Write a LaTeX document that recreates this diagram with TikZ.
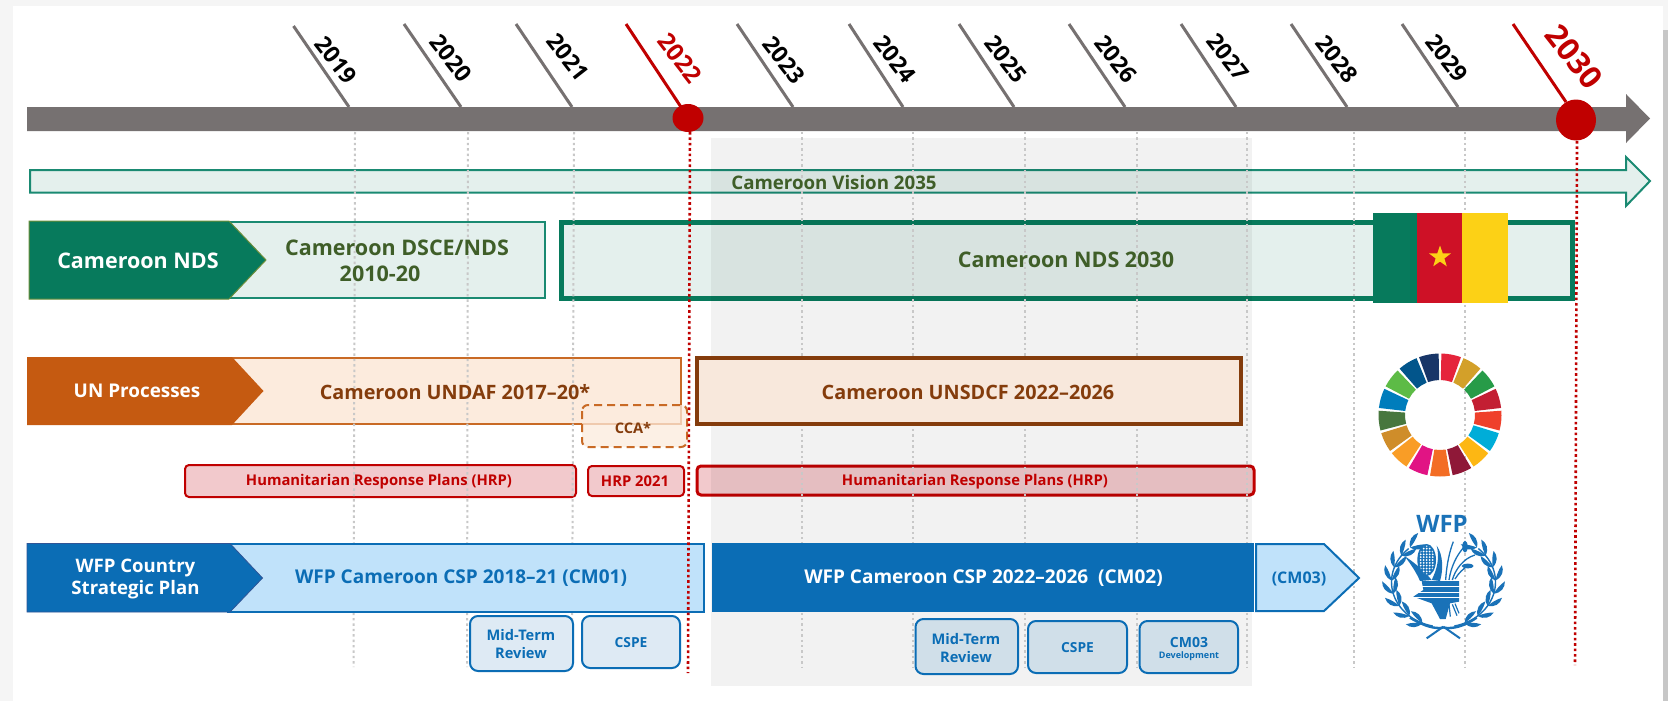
\documentclass[tikz,border=0pt]{standalone}
\usepackage{fontspec}
\setmainfont{Open Sans}
\usetikzlibrary{shapes.geometric,shapes.arrows}
\definecolor{axisgrey}{HTML}{767171}
\definecolor{dotgrey}{HTML}{C8C8C8}
\definecolor{redm}{HTML}{C00000}
\definecolor{greend}{HTML}{077A5C}
\definecolor{greenl}{HTML}{E4F0ED}
\definecolor{greenb}{HTML}{1A8A72}
\definecolor{greent}{HTML}{3F5E28}
\definecolor{oliveb}{HTML}{6B8E3A}
\definecolor{orgd}{HTML}{C55A11}
\definecolor{orgl}{HTML}{FCEBDD}
\definecolor{orgb}{HTML}{C96A25}
\definecolor{brownd}{HTML}{843C0C}
\definecolor{brownl}{HTML}{F8E8DC}
\definecolor{hrpl}{HTML}{F2C9CC}
\definecolor{blued}{HTML}{0B6DB5}
\definecolor{bluedb}{HTML}{2F5597}
\definecolor{bluel}{HTML}{C0E2FA}
\definecolor{revl}{HTML}{DEEAF4}
\definecolor{revd}{HTML}{D0DFE9}
\definecolor{logob}{HTML}{1A72B8}
\definecolor{flagr}{HTML}{CE1126}
\definecolor{flagy}{HTML}{FCD116}
\newcommand{\fs}[1]{\bfseries\fontsize{#1}{1.2em}\selectfont}
\tikzset{
 x=1pt,y=-1pt,
 yearlab/.style={font=\bfseries\fontsize{23}{23}\selectfont,rotate=-52,inner sep=0pt,text=black},
 tickln/.style={draw=axisgrey,line width=3pt},
 tickred/.style={draw=redm,line width=3pt},
 dotln/.style={draw=dotgrey,line width=2pt,dash pattern=on 2.4pt off 3pt},
 reddot/.style={draw=redm,line width=2.6pt,dash pattern=on 2.6pt off 2.8pt},
 lab/.style={inner sep=0pt,align=center,yshift=-1pt,font=\bfseries\fontsize{19.8}{26}\selectfont},
 revbox/.style={draw=blued,line width=2pt,rounded corners=8pt},
 hrpbox/.style={draw=redm,line width=2pt,rounded corners=4pt,fill=hrpl},
}
\begin{document}
\begin{tikzpicture}
\useasboundingbox (0,0) rectangle (1668,701);
% page
\fill[black!4] (0,0) rectangle (1668,701);
\fill[black!22] (1663,30) rectangle (1668,701);
\fill[white] (13,6) rectangle (1663,701);
% axis
\fill[axisgrey] (27,107) -- (1626,107) -- (1626,94) -- (1650,118.5) -- (1626,143) -- (1626,131) -- (27,131) -- cycle;
% ticks
\foreach \a/\b/\c/\d/\y/\lx/\ly in {293.5/26/349/107/2019/336/60,404/24/461/107/2020/451/58,516/24/572/107/2021/568/57,737/24/793/107/2023/784/60,849/24/903/107/2024/895/59,959/24/1014/107/2025/1006/59,1069/24/1125/107/2026/1116/59,1181/24/1236/107/2027/1228/57,1291/24/1347/107/2028/1337/59,1402/24/1458/107/2029/1447/58}{
 \coordinate (t\y a) at (\a,\b);
 \coordinate (t\y b) at (\c,\d);
 \draw[tickln] (t\y a) -- (t\y b);
 \node[yearlab] (y\y) at (\lx,\ly) {\y};
}
\coordinate (t2022a) at (626,24); \coordinate (t2022b) at (681,107);
\coordinate (t2030a) at (1513,24); \coordinate (t2030b) at (1566,102);
\draw[tickred] (t2022a) -- (t2022b);
\draw[tickred] (t2030a) -- (t2030b);
\node[yearlab,text=redm,font=\bfseries\fontsize{24}{24}\selectfont] (y2022) at (680,58) {2022};
\node[yearlab,text=redm,font=\bfseries\fontsize{31}{31}\selectfont] (y2030) at (1574,57) {2030};
% vision + nds (under panel)
\draw[draw=greenb,line width=2pt,fill=greenl] (30,170) -- (1626,170) -- (1626,157) -- (1650,181) -- (1626,206) -- (1626,192.5) -- (30,192.5) -- cycle;
\draw[draw=greenb,line width=2pt,fill=greenl] (226,222) rectangle (545,298);
\draw[draw=greend,line width=5pt,fill=greenl] (561,222) rectangle (1572,298);
% UN bars
\draw[draw=orgb,line width=2pt,fill=orgl] (229,358) rectangle (681,424);
\node[hrpbox,minimum width=391pt,minimum height=32pt,inner sep=0pt,anchor=north west] (hrpa) at (184,464) {};
\node[hrpbox,minimum width=96pt,minimum height=30pt,inner sep=0pt,anchor=north west] (hrpb) at (587,465) {};
\draw[draw=redm,line width=3pt,rounded corners=4pt,fill=hrpl] (697,466) rectangle (1254,495);
% panel
\fill[black,opacity=.05] (711,138) rectangle (1252,686);
% dotted grid
\foreach \a/\b in {355/353.5,468/467,574/572,802/802,913/913,1025/1025,1137/1137,1247/1247,1354/1354,1465/1465}{
 \draw[dotln] (\a,132) -- (\b,667);
}
% circles
\fill[redm] (688,118) ellipse [x radius=15.5,y radius=14];
\fill[redm] (1576,120) ellipse [x radius=20,y radius=20.5];
\coordinate (r22a) at (690,132); \coordinate (r22b) at (688,673);
\coordinate (r30a) at (1577,141); \coordinate (r30b) at (1575,665);
% vision text
\node[lab,text=greent,font=\fs{18.7}] (vision) at (834,181) {Cameroon Vision 2035};
% NDS row
\draw[draw=oliveb,line width=1pt,fill=greend] (29,221) -- (229,221) -- (266,260) -- (229,299) -- (29,299) -- cycle;
\node[lab,text=white,font=\fs{21.5}] (ndsl) at (138,260) {Cameroon NDS};
\node[lab,text=greent,font=\bfseries\fontsize{21.5}{26}\selectfont] (dsce) at (397,260) {Cameroon DSCE/NDS\\2010-20\hspace*{34pt}};
\node[lab,text=greent,font=\fs{21.5}] (nds30) at (1066,259) {Cameroon NDS 2030};
% flag
\fill[greend] (1373,213) rectangle (1417,303);
\fill[flagr] (1417,213) rectangle (1462,303);
\fill[flagy] (1462,213) rectangle (1508,303);
\node[star,star points=5,star point ratio=2.5,fill=flagy,minimum size=23pt,inner sep=0pt] (star) at (1440,257) {};
% UN row
\fill[orgd] (27,357) -- (232,357) -- (263.5,391) -- (232,425) -- (27,425) -- cycle;
\node[lab,text=white,font=\fs{18.9}] (unl) at (137,390) {UN Processes};
\node[lab,text=brownd] (undaf) at (455,391) {Cameroon UNDAF 2017–20*};
\draw[draw=brownd,line width=4pt,fill=brownl] (697,358) rectangle (1241,424);
\node[lab,text=brownd] (unsdcf) at (968,391) {Cameroon UNSDCF 2022–2026};
\fill[orgl,opacity=.75,rounded corners=6pt] (582,405) rectangle (687,447);
\draw[draw=orgb,line width=2pt,dash pattern=on 8pt off 5pt,rounded corners=6pt] (582,405) rectangle (687,447);
\node[lab,text=brownd,font=\fs{14.6}] (ccat) at (633,427) {CCA*};
\node[lab,text=redm,font=\fs{14.8}] (hrpat) at (379,481) {Humanitarian Response Plans (HRP)};
\node[lab,text=redm,font=\fs{14.8}] (hrpbt) at (635,480) {HRP 2021};
\node[lab,text=redm,font=\fs{14.8}] (hrpc) at (975,481) {Humanitarian Response Plans (HRP)};
% WFP row
\draw[draw=blued,line width=2pt,fill=bluel] (228,544) rectangle (704,611.5);
\draw[draw=bluedb,line width=.8pt,fill=blued] (27,543.5) -- (230,543.5) -- (262.5,578) -- (230,612) -- (27,612) -- cycle;
\node[lab,text=white,font=\bfseries\fontsize{18.6}{22.5}\selectfont] (wfpl) at (135.5,578) {WFP Country\\Strategic Plan};
\node[lab,text=blued,font=\fs{19}] (csp1) at (461,577) {WFP Cameroon CSP 2018–21 (CM01)};
\fill[blued] (712,543) rectangle (1254,612);
\node[lab,text=white,font=\fs{19}] (csp2) at (983.5,577) {WFP Cameroon CSP 2022–2026 \ (CM02)};
\draw[draw=blued,line width=2pt,fill=bluel] (1256,544) -- (1324,544) -- (1359,578) -- (1324,611) -- (1256,611) -- cycle;
\node[lab,text=blued,font=\fs{16}] (cm03) at (1299,578) {(CM03)};
% red dotted over rows
\draw[reddot] (r22a) -- (r22b);
\draw[reddot] (r30a) -- (r30b);
% review boxes
\draw[revbox,fill=revl] (470,616) rectangle (573,671);
\node[lab,text=blued,font=\bfseries\fontsize{14.6}{18}\selectfont] (mtr1) at (521,643.5) {Mid-Term\\Review};
\draw[revbox,fill=revl] (582,616) rectangle (680,668);
\node[lab,text=blued,font=\fs{13.8}] (cspe1) at (631,642) {CSPE};
\draw[revbox,fill=revd] (915.5,619) rectangle (1018,674);
\node[lab,text=blued,font=\bfseries\fontsize{14.6}{18}\selectfont] (mtr2) at (966,647) {Mid-Term\\Review};
\draw[revbox,fill=revd] (1028,621) rectangle (1127,673);
\node[lab,text=blued,font=\fs{13.8}] (cspe2) at (1077.5,647) {CSPE};
\draw[revbox,fill=revd] (1139.5,621) rectangle (1238,673);
\node[lab,text=blued,font=\fs{14}] (cm03a) at (1189,641) {CM03};
\node[lab,text=blued,font=\fs{9}] (cm03b) at (1189,655) {Development};
% SDG wheel
\foreach \k/\r/\g/\b in {1/229/36/59,2/211/160/41,3/39/155/72,4/195/31/51,5/239/64/43,6/0/173/216,7/253/183/19,8/143/24/56,9/243/109/37,10/225/20/132,11/249/157/38,12/207/141/42,13/72/119/62,14/0/125/188,15/93/187/70,16/2/85/139,17/24/54/104}{
 \pgfmathsetmacro{\ca}{90-(180+(\k-9)*21.176)+9.3}
 \pgfmathsetmacro{\cb}{90-(180+(\k-9)*21.176)-9.3}
 \definecolor{sdgc}{RGB}{\r,\g,\b}
 \fill[sdgc] ({1440+61.5*cos(\ca)},{415-61.5*sin(\ca)}) arc[start angle=-\ca,end angle=-\cb,radius=61.5]
   -- ({1440+35*cos(\cb)},{415-35*sin(\cb)}) arc[start angle=-\cb,end angle=-\ca,radius=35] -- cycle;
}
% WFP logo
\node[inner sep=0pt,text=logob,font=\fs{24}] (wfplogo) at (1442,524) {WFP};
\foreach \s in {-1,1}{
 \draw[logob,line width=1.4pt,domain=12:138,samples=30,variable=\t] plot ({1443.5+\s*52*sin(\t)},{582+45*cos(\t)});
 \foreach \t in {24,41,58,75,92,109,126,140}{
  \pgfmathsetmacro{\px}{1443.5+\s*52*sin(\t)}
  \pgfmathsetmacro{\py}{582+45*cos(\t)}
  \pgfmathsetmacro{\tnx}{\s*52*cos(\t)}
  \pgfmathsetmacro{\tny}{-45*sin(\t)}
  \pgfmathsetmacro{\tl}{sqrt(\tnx*\tnx+\tny*\tny)}
  \pgfmathsetmacro{\ux}{\tnx/\tl}
  \pgfmathsetmacro{\uy}{\tny/\tl}
  \pgfmathsetmacro{\nx}{-\s*\uy}
  \pgfmathsetmacro{\ny}{\s*\ux}
  \foreach \m in {1,-1}{
   \fill[logob] (\px,\py) .. controls ({\px+3*\ux+\m*\nx*7},{\py+3*\uy+\m*\ny*7}) and ({\px+9*\ux+\m*\nx*9},{\py+9*\uy+\m*\ny*9}) .. ({\px+15*\ux+\m*\nx*7},{\py+15*\uy+\m*\ny*7})
     .. controls ({\px+10*\ux+\m*\nx*3},{\py+10*\uy+\m*\ny*3}) and ({\px+4*\ux+\m*\nx*1},{\py+4*\uy+\m*\ny*1}) .. (\px,\py) -- cycle;
  }
 }
}
\begin{scope}[shift={(1375,505)},scale=1/3]
 % ribbons
 \draw[logob,line width=2.4pt] (105,338) .. controls (150,365) and (180,372) .. (205,368);
 \draw[logob,line width=2.4pt] (305,338) .. controls (265,365) and (235,372) .. (205,368);
 \draw[logob,line width=2pt] (155,400) -- (205,365);
 \draw[logob,line width=2pt] (255,400) -- (205,365);
 % corn leaves
 \fill[logob] (88,153) .. controls (115,170) and (145,195) .. (170,225) -- (135,228) .. controls (125,205) and (110,180) .. (88,153) -- cycle;
 \fill[logob] (185,122) .. controls (205,150) and (205,195) .. (195,228) -- (170,225) .. controls (185,195) and (195,160) .. (185,122) -- cycle;
 % cob
 \fill[logob] (155,165) ellipse [x radius=28,y radius=48];
 \begin{scope}
  \clip (155,165) ellipse [x radius=23,y radius=43];
  \foreach \i in {-2,...,2}{\foreach \j in {-5,...,5}{
   \fill[white] ({155+\i*9},{165+\j*8.5}) circle [radius=3];
  }}
 \end{scope}
 % wheat
 \draw[logob,line width=1.3pt] (212,225) .. controls (215,175) and (225,135) .. (235,110);
 \draw[logob,line width=1.3pt] (222,225) .. controls (228,185) and (245,150) .. (268,125);
 \draw[logob,line width=1.3pt] (232,225) .. controls (240,195) and (265,160) .. (300,150);
 \draw[logob,line width=1.3pt] (240,222) .. controls (250,205) and (265,190) .. (285,178);
 \fill[logob] (270,125) ellipse [x radius=8,y radius=18];
 \fill[logob] (278,183) ellipse [x radius=18,y radius=7];
 % bundle
 \fill[logob] (140,228) -- (252,228) -- (252,290) -- (225,295) -- (212,342) -- (195,342) -- (170,295) -- (115,275) -- (145,255) -- cycle;
 \draw[white,line width=1.1pt] (135,245) -- (255,245);
 \draw[white,line width=1.1pt] (125,262) -- (255,262);
 \draw[white,line width=1.1pt] (118,278) -- (255,278);
 \draw[logob,line width=1.2pt] (222,298) -- (226,335);
 \draw[logob,line width=1.2pt] (232,298) -- (246,332);
 \draw[logob,line width=1.2pt] (240,296) -- (252,325);
\end{scope}
\end{tikzpicture}
\end{document}
